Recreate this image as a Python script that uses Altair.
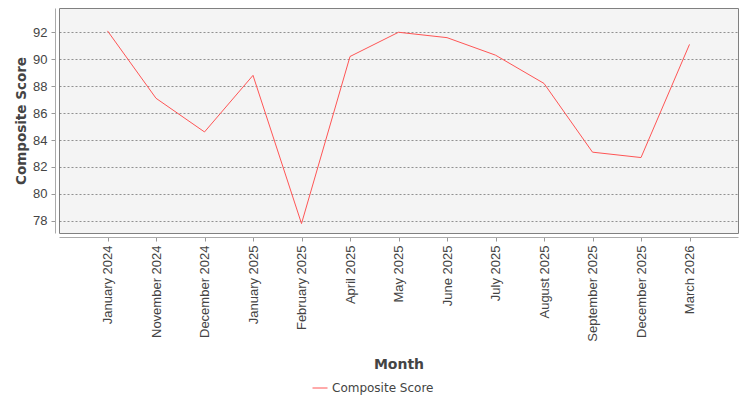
import pandas as pd
import altair as alt

# Data
months = ["January 2024", "November 2024", "December 2024", "January 2025",
          "February 2025", "April 2025", "May 2025", "June 2025", "July 2025",
          "August 2025", "September 2025", "December 2025", "March 2026"]
scores = [92.1, 87.1, 84.6, 88.8, 77.8, 90.2, 92.0, 91.6, 90.3, 88.2, 83.1, 82.7, 91.1]
y_ticks = [78, 80, 82, 84, 86, 88, 90, 92]

df = pd.DataFrame({"Month": months, "Composite Score": scores})
df["Series"] = "Composite Score"

line = alt.Chart(df).mark_line(strokeWidth=1).encode(
    x=alt.X("Month:N", sort=months,
            scale=alt.Scale(type="point", padding=1.1),
            axis=alt.Axis(labelAngle=-90, labelAlign="right", labelBaseline="middle",
                          labelFont="Liberation Sans", labelFontSize=13, labelColor="#444",
                          labelPadding=4, offset=4, tickSize=4, tickColor="#999",
                          domainColor="#aaa", title="Month", titleFont="DejaVu Sans",
                          titleFontSize=14, titleFontWeight="bold", titleColor="#444",
                          titleBaseline="middle", titleY=127)),
    y=alt.Y("Composite Score:Q",
            scale=alt.Scale(domain=[77.1, 93.8], nice=False, zero=False),
            axis=alt.Axis(values=y_ticks, offset=4, tickSize=4, tickColor="#999",
                          domainColor="#aaa", labelFont="Liberation Sans", labelFontSize=13,
                          labelColor="#444", labelPadding=4,
                          grid=True, gridColor="#666", gridDash=[2, 2], gridWidth=0.7,
                          title="Composite Score", titleFont="DejaVu Sans",
                          titleFontSize=13.5, titleFontWeight="bold", titleColor="#444",
                          titleX=-34, titleBaseline="middle")),
    color=alt.Color("Series:N", scale=alt.Scale(range=["#ff5555"]),
                    legend=alt.Legend(title=None, orient="none", legendX=253, legendY=372,
                                      symbolType="stroke", symbolSize=225,
                                      symbolStrokeWidth=1, labelFont="DejaVu Sans",
                                      labelFontSize=12, labelColor="#444", labelOffset=4))
).properties(
    width=679,
    height=225,
    autosize=alt.AutoSizeParams(type="none"),
    padding={"left": 51, "top": 0, "right": 4, "bottom": 165},
)

chart = line.configure_view(fill="#f4f4f4", stroke="#808080", strokeWidth=1)

chart.save("out.html", embed_options={"renderer": "svg", "actions": False})
